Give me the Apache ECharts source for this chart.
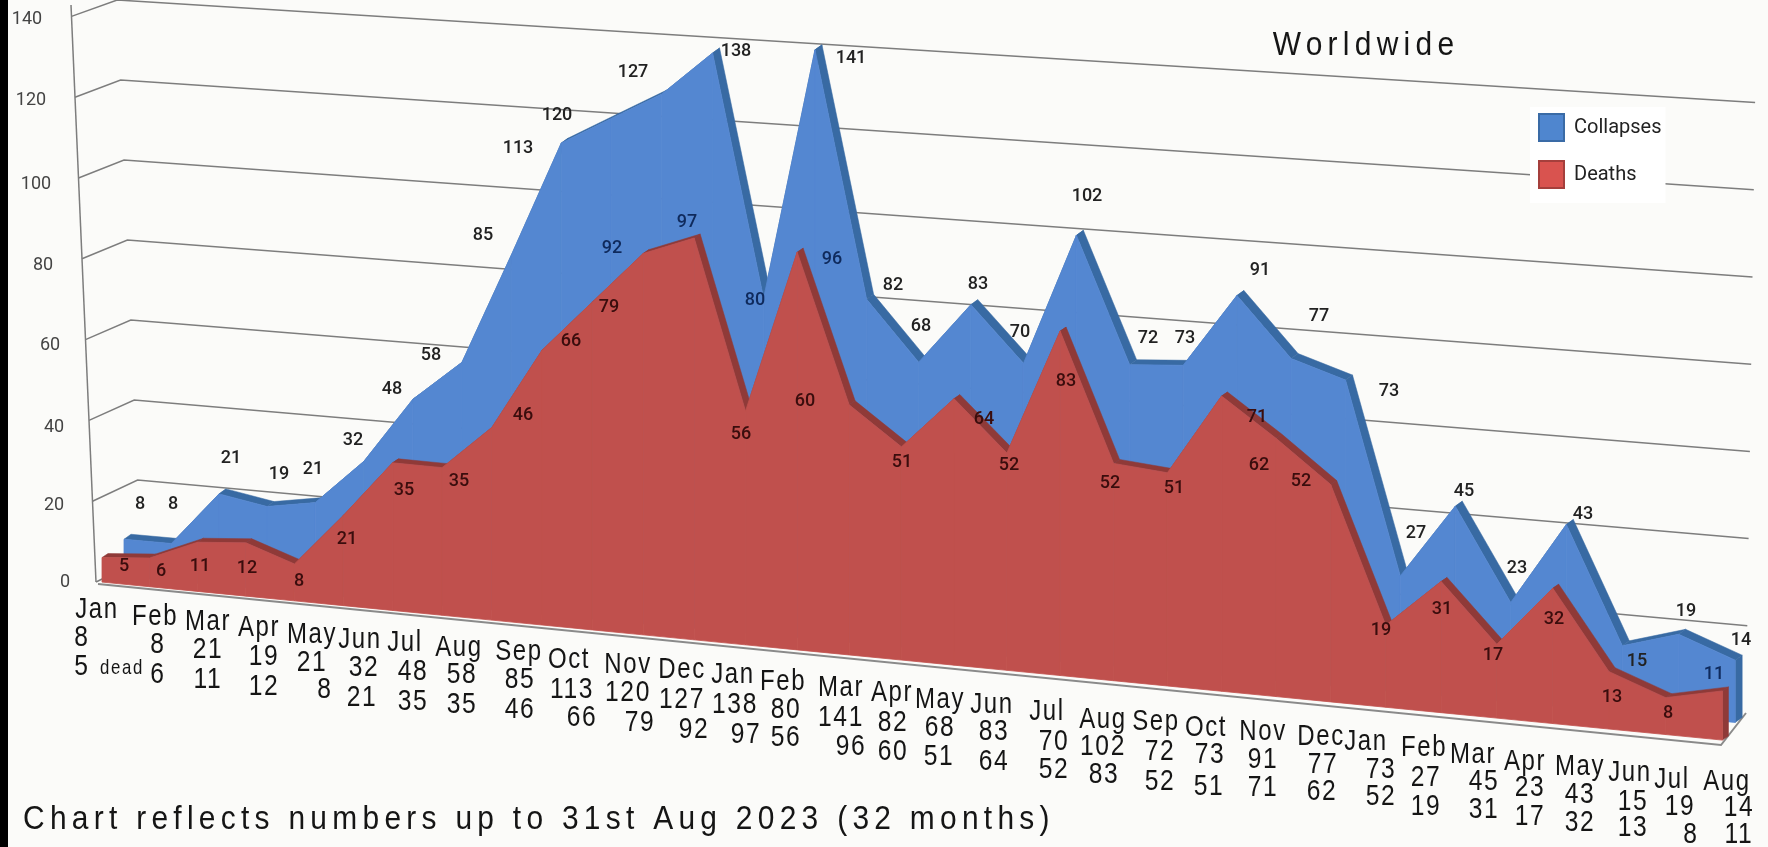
<!DOCTYPE html>
<html><head><meta charset="utf-8">
<style>html,body{margin:0;padding:0;background:#fbfbf9;overflow:hidden}#c{width:1768px;height:847px}</style>
<script src="https://cdn.jsdelivr.net/npm/echarts@6/dist/echarts.min.js"></script>
</head><body><div id="c"></div>
<script>
const months=['Jan','Feb','Mar','Apr','May','Jun','Jul','Aug','Sep','Oct','Nov','Dec','Jan','Feb','Mar','Apr','May','Jun','Jul','Aug','Sep','Oct','Nov','Dec','Jan','Feb','Mar','Apr','May','Jun','Jul','Aug'];
const collapses=[8,8,21,19,21,32,48,58,85,113,120,127,138,80,141,82,68,83,70,102,72,73,91,77,73,27,45,23,43,15,19,14];
const deaths=[5,6,11,12,8,21,35,35,46,66,79,92,97,56,96,60,51,64,52,83,52,51,71,62,52,19,31,17,32,13,8,11];
const yTicks=[0,20,40,60,80,100,120,140];

// Hand-placed annotation anchors of the reference (pixels)
const collapseLabelAt=[[140,504],[173,504],[231,458],[279,474],[313,469],[353,440],[392,389],[431,355],[483,235],[518,148],[557,115],[633,72],[736,51],[755,300],[851,58],[893,285],[921,326],[978,284],[1020,332],[1087,196],[1148,338],[1185,338],[1260,270],[1319,316],[1389,391],[1416,533],[1464,491],[1517,568],[1583,514],[1637,661],[1686,611],[1741,640]];
const deathLabelAt=[[124,566],[161,571],[200,566],[247,568],[299,581],[347,539],[404,490],[459,481],[523,415],[571,341],[609,307],[612,248],[687,222],[741,434],[832,259],[805,401],[902,462],[984,419],[1009,465],[1066,381],[1110,483],[1174,488],[1257,417],[1259,465],[1301,481],[1381,630],[1442,609],[1493,655],[1554,619],[1612,697],[1668,713],[1714,674]];
const monthRowAt=[[97,610],[155,617],[208,622],[259,628],[312,635],[360,640],[405,643],[459,648],[519,652],[569,660],[628,665],[682,670],[733,675],[783,682],[841,688],[892,693],[940,700],[992,705],[1047,712],[1103,720],[1156,722],[1206,728],[1263,732],[1321,737],[1366,742],[1424,748],[1473,755],[1525,762],[1580,767],[1630,773],[1672,780],[1727,782]];
const collapseRowAt=[[82,638],[158,645],[208,650],[264,657],[312,663],[364,668],[413,672],[462,675],[520,680],[572,690],[628,693],[682,700],[735,705],[786,710],[841,718],[893,723],[940,728],[994,732],[1054,742],[1103,747],[1160,752],[1210,755],[1263,760],[1323,765],[1381,770],[1426,778],[1484,782],[1530,788],[1580,795],[1633,802],[1680,807],[1739,808]];
const deathRowAt=[[82,667],[158,675],[208,680],[264,687],[325,690],[362,698],[413,702],[462,705],[520,710],[582,718],[640,723],[694,730],[746,735],[786,738],[851,747],[893,752],[939,757],[994,762],[1054,770],[1104,775],[1160,782],[1209,787],[1263,788],[1322,792],[1381,797],[1426,807],[1484,810],[1530,817],[1580,823],[1633,828],[1691,835],[1739,835]];
const yTickLabelAt={0:[65,582],20:[54,505],40:[54,427],60:[50,345],80:[43,265],100:[36,184],120:[31,100],140:[27,19]};
const deathsOnBlue=[11,12,14,31];

const GRID={left:100,top:100,width:1500,height:600};
const sans='"Liberation Sans",sans-serif';

// scale position -> month index / value, then the 3D view of the reference
const toData=p=>[(p[0]-GRID.left)/GRID.width*31,(GRID.top+GRID.height-p[1])/GRID.height*140];
const viewBack=(p)=>{const [t,v]=toData(p);const x=131+47.2*t+0.154*t*t;return [x,567+(x-126)*0.0905-4.15*v];};
const viewFront=(p)=>{const [t,v]=toData(p);const x=108+47.5*t+0.154*t*t;return [x,574+(x-108)*0.0975-4.1*v];};

function areaItem(view,values,face,side,off,labelAt,labelColor){
  return function(params,api){
    const i=params.dataIndex,kids=[];
    const q=(a,b)=>view(api.coord([a,b]));
    const back=q(i,values[i]);
    const fr=p=>[p[0]-off[0],p[1]-off[1]];
    if(i<values.length-1){
      const b2=q(i+1,values[i+1]);
      kids.push({type:'polygon',z2:1,shape:{points:[fr(back),fr(b2),b2,back]},style:{fill:side,stroke:side,lineWidth:0.5}});
      kids.push({type:'polygon',z2:2,shape:{points:[fr(back),fr(b2),fr(q(i+1,-1)),fr(q(i,-1))]},style:{fill:face,stroke:face,lineWidth:0.8}});
    }else{
      const bot=q(i,-1);
      kids.push({type:'polygon',z2:1,shape:{points:[fr(back),back,bot,fr(bot)]},style:{fill:side,stroke:side,lineWidth:0.5}});
    }
    const at=labelAt[i];
    kids.push({type:'text',z2:5,style:{x:at[0],y:at[1],text:String(values[i]),fill:labelColor(i),font:'500 18px Roboto,'+sans,textAlign:'center',textVerticalAlign:'middle'}});
    return {type:'group',children:kids};
  };
}

function frameItem(params,api){
  const v=api.value(0),kids=[];
  const cy=api.coord([0,v])[1];
  const val=Math.round((GRID.top+GRID.height-cy)/GRID.height*140);
  const front=[96-0.175*val,582-4.04*val];
  const backL=[141-0.17*val,560-4.0*val];
  const backR=[1746+0.065*val,713-4.36*val];
  const line={stroke:'#7d7d7d',lineWidth:1.5,fill:null};
  if(val>0){
    kids.push({type:'polyline',shape:{points:[front,backL,backR]},style:line});
  }else{
    kids.push({type:'polyline',shape:{points:[front,backL]},style:line});
    kids.push({type:'polyline',shape:{points:[[98,584],[1721,745],[1746,713]]},style:{stroke:'#8a8a8a',lineWidth:2,fill:null}});
    kids.push({type:'line',shape:{x1:71,y1:5,x2:96,y2:582},style:line});
  }
  const at=yTickLabelAt[val];
  kids.push({type:'text',style:{x:at[0],y:at[1],text:String(val),fill:'#444',font:'18px Roboto,'+sans,textAlign:'center',textVerticalAlign:'middle'}});
  return {type:'group',children:kids};
}

function rowsItem(params,api){
  const i=params.dataIndex;
  const t=(at,s,size,sx)=>({type:'text',x:at[0],y:at[1],scaleX:sx,style:{x:0,y:0,text:s,fill:'#151515',font:size+'px '+sans,textAlign:'center',textVerticalAlign:'middle'}});
  const kids=[t(monthRowAt[i],months[i],30,0.8),t(collapseRowAt[i],String(collapses[i]),30,0.82),t(deathRowAt[i],String(deaths[i]),30,0.82)];
  if(i===0)kids.push(t([122,668],'dead',21,0.8));
  return {type:'group',children:kids};
}

const chart=echarts.init(document.getElementById('c'),null,{renderer:'canvas'});
// The reference's typeface is tracked out: open two canvas layers with letter spacing
const painter=chart.getZr().painter;
painter.getLayer(5).ctx.letterSpacing='2px';
painter.getLayer(6).ctx.letterSpacing='6px';
chart.setOption({
  animation:false,
  backgroundColor:'#fbfbf9',
  grid:GRID,
  xAxis:{type:'category',data:months,boundaryGap:false,show:false},
  yAxis:{type:'value',min:0,max:140,interval:20,show:false},
  legend:{
    left:1530,top:107,orient:'vertical',itemWidth:25,itemHeight:27,itemGap:18,padding:[6,4,14,8],
    backgroundColor:'#ffffff',selectedMode:false,
    textStyle:{color:'#222',fontSize:20,fontFamily:'Roboto,"Liberation Sans",sans-serif',padding:[0,0,0,5]},
    data:[
      {name:'Collapses',icon:'rect',itemStyle:{color:'#4f86cf',borderColor:'#3a6ba6',borderWidth:2}},
      {name:'Deaths',icon:'rect',itemStyle:{color:'#d9534f',borderColor:'#a53f3c',borderWidth:2}}
    ]
  },
  graphic:[
    {type:'rect',zlevel:6,shape:{x:0,y:0,width:8,height:847},style:{fill:'#000'}},
    {type:'text',zlevel:6,x:1366,y:46,scaleX:0.88,style:{x:0,y:0,text:'Worldwide',fill:'#151515',font:'34px '+sans,textAlign:'center',textVerticalAlign:'middle'}},
    {type:'text',zlevel:6,x:23,y:820,scaleX:0.88,style:{x:0,y:0,text:'Chart reflects numbers up to 31st Aug 2023 (32 months)',fill:'#151515',font:'34px '+sans,textAlign:'left',textVerticalAlign:'middle'}}
  ],
  series:[
    {type:'custom',name:'Frame',z:1,silent:true,data:yTicks.map(v=>[v]),encode:{y:0},renderItem:frameItem},
    {type:'custom',name:'Collapses',z:2,silent:true,data:collapses.map((v,i)=>[i,v]),encode:{x:0,y:1},
      itemStyle:{color:'#4f86cf'},
      renderItem:areaItem(viewBack,collapses,'#5487d1','#386aa3',[7,-5],collapseLabelAt,i=>i===13?'#0f2a5c':'#222')},
    {type:'custom',name:'Deaths',z:3,silent:true,data:deaths.map((v,i)=>[i,v]),encode:{x:0,y:1},
      itemStyle:{color:'#c0504d'},
      renderItem:areaItem(viewFront,deaths,'#c0504d','#8f3a38',[6,-4],deathLabelAt,i=>deathsOnBlue.includes(i)?'#0f2a5c':'#3a0d0d')},
    {type:'custom',name:'Rows',zlevel:5,silent:true,data:months.map((m,i)=>[i]),encode:{x:0},renderItem:rowsItem}
  ]
});
</script></body></html>
